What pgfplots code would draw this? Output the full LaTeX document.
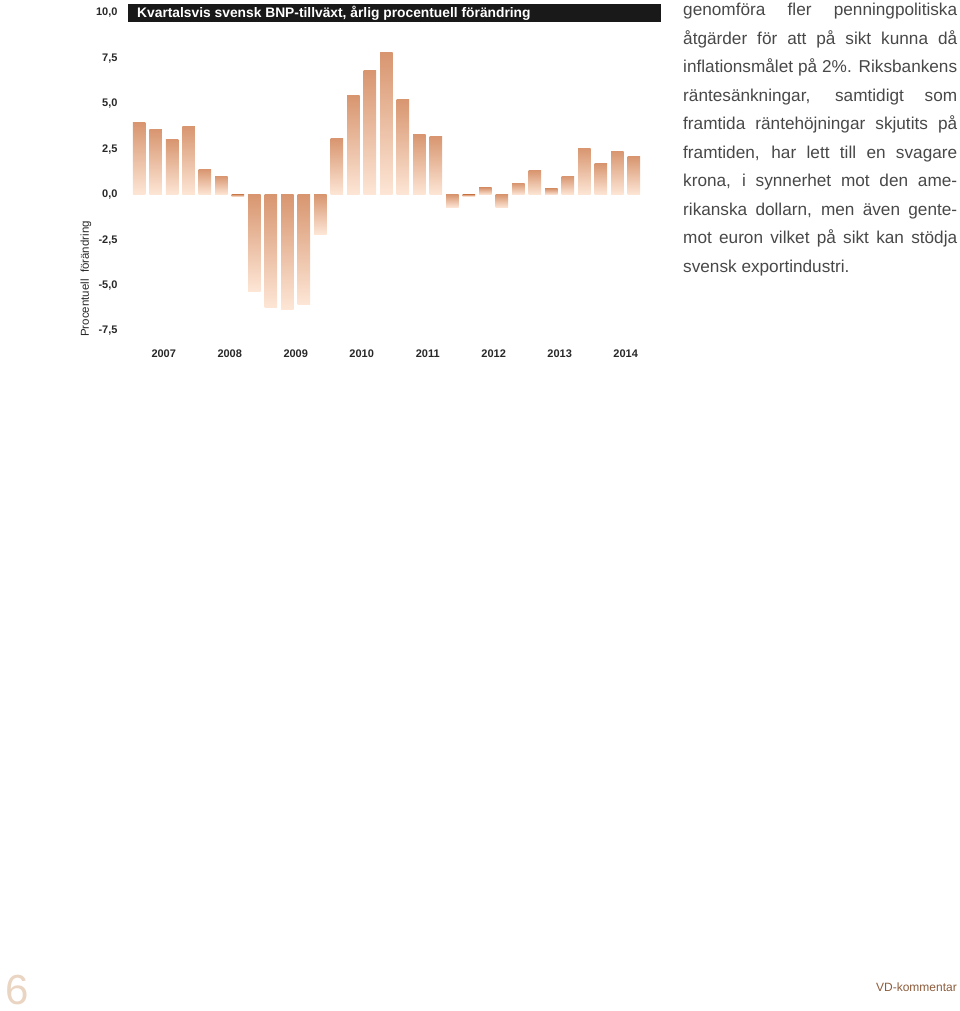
\documentclass[border=0pt]{standalone}
\usepackage{pgfplots}
\pgfplotsset{compat=1.18}
\usepackage{fontspec}
\setmainfont{Liberation Sans}
\definecolor{barTop}{RGB}{216,150,112}
\definecolor{barMid}{RGB}{240,174,136}
\definecolor{barBot}{RGB}{253,230,214}
\definecolor{txt}{RGB}{40,40,40}
\definecolor{pagenum}{RGB}{234,212,194}
\definecolor{footer}{RGB}{140,92,60}
\pgfplotsset{gbar/.style={ybar, bar width=12.5pt, bar shift=0pt, draw=none, top color=barTop, middle color=barMid, bottom color=barBot}}
\begin{document}
\begin{tikzpicture}
\useasboundingbox (0pt,0pt) rectangle (960pt,1011pt);
\begin{axis}[
  at={(128pt,680pt)}, anchor=south west,
  scale only axis, width=533pt, height=318pt,
  xmin=-0.667, xmax=31.64, ymin=-7.5, ymax=10,
  axis line style={draw=none}, major tick length=0pt,
  xtick={1.5,5.5,9.5,13.5,17.5,21.5,25.5,29.5},
  xticklabels={2007,2008,2009,2010,2011,2012,2013,2014},
  xticklabel style={font=\fontsize{11}{13}\selectfont\bfseries, text=txt, yshift=-15pt},
  ytick={-7.5,-5,-2.5,0,2.5,5,7.5,10},
  yticklabel style={font=\fontsize{11}{13}\selectfont\bfseries, text=txt, xshift=-7pt,
    /pgf/number format/.cd, fixed, fixed zerofill, precision=1, use comma, assume math mode=true},
  clip=false,
]
\addplot[gbar] coordinates {(0,3.95)};
\addplot[gbar] coordinates {(1,3.60)};
\addplot[gbar] coordinates {(2,3.04)};
\addplot[gbar] coordinates {(3,3.77)};
\addplot[gbar] coordinates {(4,1.40)};
\addplot[gbar] coordinates {(5,1.02)};
\addplot[gbar] coordinates {(6,-0.10)};
\addplot[gbar] coordinates {(7,-5.31)};
\addplot[gbar] coordinates {(8,-6.23)};
\addplot[gbar] coordinates {(9,-6.30)};
\addplot[gbar] coordinates {(10,-6.04)};
\addplot[gbar] coordinates {(11,-2.17)};
\addplot[gbar] coordinates {(12,3.09)};
\addplot[gbar] coordinates {(13,5.44)};
\addplot[gbar] coordinates {(14,6.85)};
\addplot[gbar] coordinates {(15,7.80)};
\addplot[gbar] coordinates {(16,5.24)};
\addplot[gbar] coordinates {(17,3.31)};
\addplot[gbar] coordinates {(18,3.20)};
\addplot[gbar] coordinates {(19,-0.70)};
\addplot[gbar] coordinates {(20,-0.08)};
\addplot[gbar] coordinates {(21,0.37)};
\addplot[gbar] coordinates {(22,-0.72)};
\addplot[gbar] coordinates {(23,0.63)};
\addplot[gbar] coordinates {(24,1.33)};
\addplot[gbar] coordinates {(25,0.32)};
\addplot[gbar] coordinates {(26,1.02)};
\addplot[gbar] coordinates {(27,2.57)};
\addplot[gbar] coordinates {(28,1.69)};
\addplot[gbar] coordinates {(29,2.40)};
\addplot[gbar] coordinates {(30,2.09)};
\end{axis}
\fill[black!90] (128pt,989pt) rectangle (661pt,1007pt);
\node[anchor=west, inner sep=0pt, text=white, font=\fontsize{13.8}{15}\selectfont\bfseries] at (137pt,998pt) {Kvartalsvis svensk BNP-tillväxt, årlig procentuell förändring};
\node[rotate=90, inner sep=0pt, text=txt, font=\fontsize{11.5}{13}\selectfont] at (86pt,732pt) {Procentuell\ \ förändring};
\node[anchor=base west, inner sep=0pt, text width=274pt, align=justify, text=txt!85, font=\fontsize{17.2}{28.5}\selectfont] at (683pt,995pt) {\hyphenpenalty=10000\emergencystretch=20pt
genomföra fler penningpolitiska\linebreak
åtgärder för att på sikt kunna då\linebreak
inflationsmålet på 2\%. Riksbankens\linebreak
räntesänkningar, samtidigt som\linebreak
framtida räntehöjningar skjutits på\linebreak
framtiden, har lett till en svagare\linebreak
krona, i synnerhet mot den ame-\linebreak
rikanska dollarn, men även gente-\linebreak
mot euron vilket på sikt kan stödja\linebreak
svensk exportindustri.};
\node[inner sep=0pt, text=pagenum, font=\fontsize{42}{48}\selectfont] at (17pt,21pt) {6};
\node[anchor=east, inner sep=0pt, text=footer, font=\fontsize{12}{14}\selectfont] at (957pt,24pt) {VD-kommentar};
\end{tikzpicture}
\end{document}
